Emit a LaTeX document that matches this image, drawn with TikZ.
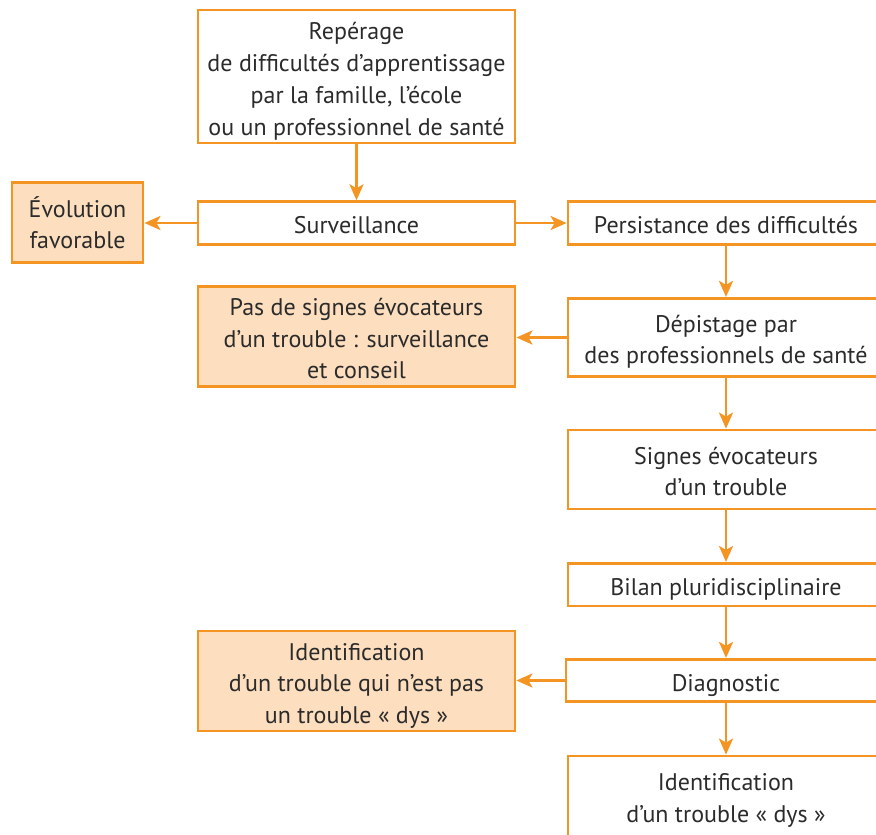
\documentclass[tikz,border=0pt]{standalone}
\usepackage{fontspec}
\setmainfont{PT Sans}
\usetikzlibrary{arrows.meta}
\definecolor{orng}{HTML}{F39423}
\definecolor{pale}{HTML}{FDDFBF}
\definecolor{ink}{HTML}{2B2B2B}
\tikzset{
  box/.style={draw=orng, line width=2.8pt, inner sep=0pt, align=center, text=ink,
    font=\fontsize{24}{31.5}\selectfont, text height=21pt, text depth=0pt},
  filledbox/.style={box, fill=pale},
  arr/.style={draw=orng, line width=2.8pt, -{Stealth[length=16pt,width=14pt,inset=4pt]}}
}
\begin{document}
\begin{tikzpicture}[x=1pt,y=-1pt]
\useasboundingbox (0,0) rectangle (876,835);
\clip (0,0) rectangle (876,835);
\node[box, minimum width=317pt, minimum height=133pt, font=\fontsize{24}{32}\selectfont, text height=117pt] (top) at (356.5,76.5)
  {Repérage\\de difficultés d’apprentissage\\par la famille, l’école\\ou un professionnel de santé};
\node[box, minimum width=317pt, minimum height=42.6pt] (surv) at (356.5,223) {Surveillance};
\node[filledbox, minimum width=131pt, minimum height=80pt, text height=52.5pt] (evol) at (77.5,222.3) {Évolution\\favorable};
\node[box, minimum width=316pt, minimum height=42.6pt] (pers) at (726,223) {Persistance des difficultés};
\node[filledbox, minimum width=317pt, minimum height=100pt, text height=84pt] (pas) at (356.5,336.7)
  {Pas de signes évocateurs\\d’un trouble : surveillance\\et conseil};
\node[box, minimum width=316pt, minimum height=78.4pt, text height=52.5pt] (dep) at (726,337.5)
  {Dépistage par\\des professionnels de santé};
\node[box, minimum width=316pt, minimum height=79pt, text height=52.5pt] (sig) at (726,469.5)
  {Signes évocateurs\\d’un trouble};
\node[box, minimum width=316pt, minimum height=42.7pt] (bil) at (726,584.7) {Bilan pluridisciplinaire};
\node[filledbox, minimum width=317pt, minimum height=100pt, text height=84pt] (pasdys) at (356.5,681)
  {Identification\\d’un trouble qui n’est pas\\un trouble « dys »};
\node[box, minimum width=320pt, minimum height=42.4pt] (diag) at (726,680.5) {Diagnostic};
\node[box, minimum width=316pt, minimum height=80pt, text height=52.5pt] (dys) at (726,796)
  {Identification\\d’un trouble « dys »};
\draw[arr] (top.south) -- (surv.north);
\draw[arr] (surv.west) -- (evol.east |- surv.west);
\draw[arr] (surv.east) -- (pers.west);
\draw[arr] (pers.south) -- (dep.north);
\draw[arr] (dep.west) -- (pas.east |- dep.west);
\draw[arr] (dep.south) -- (sig.north);
\draw[arr] (sig.south) -- (bil.north);
\draw[arr] (bil.south) -- (diag.north);
\draw[arr] (diag.west) -- (pasdys.east |- diag.west);
\draw[arr] (diag.south) -- (dys.north);
\end{tikzpicture}
\end{document}
